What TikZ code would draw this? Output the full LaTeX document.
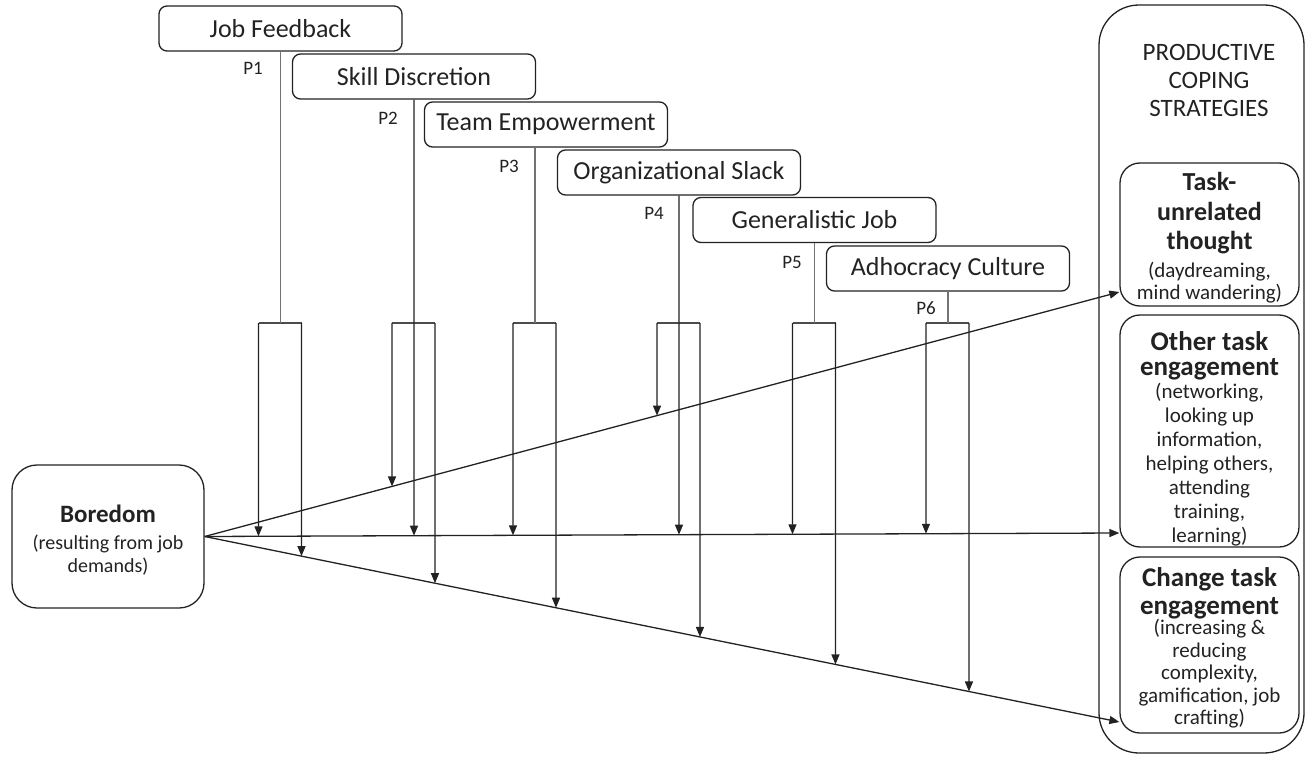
\documentclass[tikz,border=0pt]{standalone}
\usepackage{fontspec}
\setmainfont{Carlito}
\usetikzlibrary{arrows.meta,calc}
\definecolor{ink}{HTML}{222222}
\tikzset{
  lw/.style={line width=1.3pt, draw=ink},
  topbox/.style={lw, rounded corners=8pt, minimum width=243pt, minimum height=45pt, inner sep=0pt, text=ink, font=\fontsize{26}{30}\selectfont},
  rbox/.style={lw, rounded corners=20pt, minimum width=179pt, inner sep=0pt},
  rtext/.style={inner sep=0pt, align=center, text=ink},
  plabel/.style={text=ink, font=\fontsize{19}{22}\selectfont, inner sep=0pt},
  arr/.style={lw, -{Triangle[length=10pt,width=8pt]}},
  stemgray/.style={line width=1.3pt, draw=black!55},
  brk/.style={line width=1.3pt, draw=black!70},
}
\newcommand\hd[2]{{\fontsize{#1}{#1}\selectfont\bfseries #2}}
\newcommand\legarrow[2]{\draw[arr] (#1) -- (intersection cs: first line={(#1)--([yshift=-50pt]#1)}, second line={(bor.east)--(#2)});}
\begin{document}
\begin{tikzpicture}[x=1pt,y=-1pt]
\useasboundingbox (0,0) rectangle (1306,757);

% container on the right
\node[lw, rounded corners=40pt, minimum width=205pt, minimum height=748pt, inner sep=0pt] (cont) at (1201.5,379) {};
\node[rtext, font=\fontsize{25}{28}\selectfont] (pcs) at (1209,80) {PRODUCTIVE\\COPING\\STRATEGIES};

% strategy boxes
\node[rbox, minimum height=143pt] (tu) at (1209.5,234.5) {};
\node[rtext, font=\fontsize{21}{22}\selectfont] (tut) at (1209.5,238)
  {\hd{26}{Task-}\\[8pt]\hd{26}{unrelated}\\[7pt]\hd{26}{thought}\\[6pt](daydreaming,\\mind wandering)};
\node[rbox, minimum height=232pt] (ot) at (1209.5,431) {};
\node[rtext, font=\fontsize{21}{24}\selectfont] (ott) at (1209.5,439)
  {\hd{27}{Other task}\\[1pt]\hd{27}{engagement}\\[-1pt](networking,\\looking up\\information,\\helping others,\\attending\\training,\\learning)};
\node[rbox, minimum height=176pt] (ct) at (1209.5,645) {};
\node[rtext, font=\fontsize{21}{22.5}\selectfont] (ctt) at (1209.5,648)
  {\hd{27}{Change task}\\[5pt]\hd{27}{engagement}\\[-2pt](increasing \&\\reducing\\complexity,\\gamification, job\\crafting)};

% boredom
\node[lw, rounded corners=25pt, minimum width=192pt, minimum height=143pt, inner sep=0pt] (bor) at (108,536.5) {};
\node[rtext, font=\fontsize{20}{23}\selectfont] (bort) at (108,540.5)
  {\hd{25}{Boredom}\\[4pt](resulting from job\\demands)};

% moderator boxes
\node[topbox] (b1) at (280.5,28.5) {Job Feedback};
\node[topbox] (b2) at (414,76.5) {Skill Discretion};
\node[topbox] (b3) at (546,124.5) {Team Empowerment};
\node[topbox] (b4) at (679,172.5) {Organizational Slack};
\node[topbox] (b5) at (814.5,220) {Generalistic Job};
\node[topbox] (b6) at (948,268.5) {Adhocracy Culture};

\node[plabel] (p1) at (253,68) {P1};
\node[plabel] (p2) at (388,118) {P2};
\node[plabel] (p3) at (509,166) {P3};
\node[plabel] (p4) at (654,213) {P4};
\node[plabel] (p5) at (792,262) {P5};
\node[plabel] (p6) at (926,308) {P6};

% end points of the three main paths
\coordinate (U) at (tu.west |- 0,292);
\coordinate (M) at (ot.west |- 0,533);
\coordinate (L) at (ct.west |- 0,722);

\draw[arr] (bor.east) -- (U);
\draw[arr] (bor.east) -- (M);
\draw[arr] (bor.east) -- (L);

% stems and brackets
\coordinate (s1) at (b1.south);
\coordinate (s2) at (b2.south);
\coordinate (s3) at ([xshift=-11pt]b3.south);
\coordinate (s4) at (b4.south);
\coordinate (s5) at (b5.south);
\coordinate (s6) at (b6.south);
\foreach \i in {1,...,6}{
  \coordinate (k\i) at (s\i |- 0,323);
  \coordinate (k\i l) at ($(k\i)+(-22,0)$);
  \coordinate (k\i r) at ($(k\i)+(21,0)$);
  \draw[brk] (k\i l) -- (k\i r);
}
\draw[stemgray] (s1) -- (k1);
\draw[stemgray] (s3) -- (k3);
\draw[stemgray] (s5) -- (k5);
\draw[stemgray] (s6) -- (k6);
\legarrow{s2}{M}
\legarrow{s4}{M}

% legs
\legarrow{k1l}{M}
\legarrow{k1r}{L}
\legarrow{k2l}{U}
\legarrow{k2r}{L}
\legarrow{k3l}{M}
\legarrow{k3r}{L}
\legarrow{k4l}{U}
\legarrow{k4r}{L}
\legarrow{k5l}{M}
\legarrow{k5r}{L}
\legarrow{k6l}{M}
\legarrow{k6r}{L}
\end{tikzpicture}
\end{document}
